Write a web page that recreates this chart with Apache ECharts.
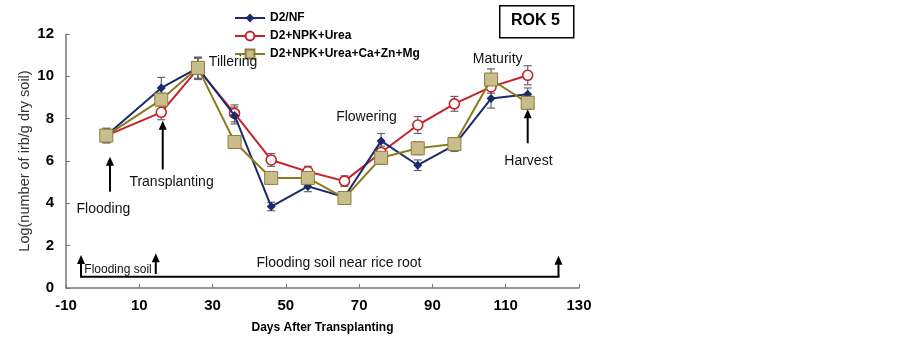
<!DOCTYPE html>
<html><head><meta charset="utf-8">
<script src="https://cdn.jsdelivr.net/npm/echarts@6/dist/echarts.min.js"></script>
<style>html,body{margin:0;padding:0;background:#fff}#c{width:903px;height:339px}</style>
</head><body><div id="c"></div>
<script>
const days = [1, 16, 26, 36, 46, 56, 66, 76, 86, 96, 106, 116];
const nf   = [7.2, 9.45, 10.4, 8.15, 3.85, 4.8, 4.3, 6.95, 5.8, 6.75, 8.95, 9.15];
const urea = [7.2, 8.3, 10.35, 8.25, 6.05, 5.5, 5.05, 6.4, 7.7, 8.7, 9.5, 10.05];
const ca   = [7.2, 8.9, 10.4, 6.9, 5.2, 5.2, 4.25, 6.15, 6.6, 6.8, 9.85, 8.75];
const nfErr   = [0.3, 0.5, 0.5, 0.4, 0.2, 0.25, 0.2, 0.35, 0.25, 0.3, 0.45, 0.3];
const ureaErr = [0.3, 0.35, 0.5, 0.4, 0.3, 0.25, 0.25, 0.3, 0.4, 0.35, 0.3, 0.45];
const caErr   = [0.35, 0.3, 0.5, 0.3, 0.2, 0.25, 0.2, 0.3, 0.3, 0.3, 0.5, 0.3];
const seriesNames = ['D2/NF', 'D2+NPK+Urea', 'D2+NPK+Urea+Ca+Zn+Mg'];
const xTicks = [-10, 10, 30, 50, 70, 90, 110, 130];
const yTicks = [0, 2, 4, 6, 8, 10, 12];
// annotation texts [x, y, text, size]
const notes = [
  [35.6, 10.66, 'Tillering', 14], [72.0, 8.07, 'Flowering', 14], [107.8, 10.8, 'Maturity', 14],
  [116.2, 5.99, 'Harvest', 14], [18.8, 5.0, 'Transplanting', 14], [0.2, 3.73, 'Flooding', 14],
  [4.2, 0.86, 'Flooding soil', 12], [64.5, 1.16, 'Flooding soil near rice root', 14]
];
// vertical arrows [x, yFrom, yTo]
const arrows = [[2.0, 4.55, 6.2], [16.4, 5.6, 7.9], [116.0, 6.84, 8.44], [-5.9, 0.53, 1.56], [14.5, 0.66, 1.64], [124.4, 0.53, 1.52]];
// horizontal bracket line [xFrom, xTo, y]
const bracket = [[-5.9, 124.4, 0.53]];

const FONT = 'Liberation Sans, Arial, sans-serif';
const colors = ['#1B2A6B', '#C8202A', '#8C7B1E'];

function errData(vals, errs) { return days.map((d, i) => [d, vals[i], errs[i]]); }
function errSeries(vals, errs) {
  return {
    type: 'custom', z: 1, silent: true, legendHoverLink: false,
    data: errData(vals, errs),
    renderItem: function (params, api) {
      const x = api.value(0), y = api.value(1), e = api.value(2);
      const top = api.coord([x, y + e]), bot = api.coord([x, y - e]);
      const w = 4;
      const st = { stroke: '#666', lineWidth: 1.2 };
      return { type: 'group', children: [
        { type: 'line', shape: { x1: top[0], y1: top[1], x2: bot[0], y2: bot[1] }, style: st },
        { type: 'line', shape: { x1: top[0] - w, y1: top[1], x2: top[0] + w, y2: top[1] }, style: st },
        { type: 'line', shape: { x1: bot[0] - w, y1: bot[1], x2: bot[0] + w, y2: bot[1] }, style: st }
      ]};
    }
  };
}

const chart = echarts.init(document.getElementById('c'));
chart.setOption({
  animation: false,
  textStyle: { fontFamily: FONT },
  grid: { left: 66, right: 324, top: 34, bottom: 50 },
  legend: {
    orient: 'vertical', left: 229, top: 7, itemGap: 6, itemWidth: 30, itemHeight: 11,
    textStyle: { fontFamily: FONT, fontWeight: 'bold', fontSize: 12, color: '#000' },
    data: seriesNames
  },
  xAxis: {
    type: 'value', min: xTicks[0], max: xTicks[xTicks.length - 1], interval: 20,
    name: 'Days After Transplanting', nameLocation: 'middle', nameGap: 34,
    nameTextStyle: { fontFamily: FONT, fontWeight: 'bold', fontSize: 12, color: '#000' },
    axisLine: { onZero: false, lineStyle: { color: '#777', width: 1.5 } },
    axisTick: { inside: true, length: 4, lineStyle: { color: '#777' } },
    axisLabel: { fontFamily: FONT, fontWeight: 'bold', fontSize: 15, color: '#000', margin: 10 },
    splitLine: { show: false }
  },
  yAxis: {
    type: 'value', min: yTicks[0], max: yTicks[yTicks.length - 1], interval: 2,
    name: 'Log(number of irb/g dry soil)', nameLocation: 'middle', nameGap: 34, nameMoveOverlap: false,
    nameTextStyle: { fontFamily: FONT, fontSize: 14.5, color: '#333' },
    axisLine: { show: true, onZero: false, lineStyle: { color: '#777', width: 1.5 } },
    axisTick: { show: true, inside: true, length: 4, lineStyle: { color: '#777' } },
    axisLabel: { fontFamily: FONT, fontWeight: 'bold', fontSize: 15, color: '#000', margin: 12 },
    splitLine: { show: false }
  },
  graphic: [
    { type: 'rect', left: 499, top: 5, shape: { width: 74, height: 32 }, style: { fill: '#fff', stroke: '#000', lineWidth: 1.5 } },
    { type: 'text', left: 511, top: 13, style: { text: 'ROK 5', fontFamily: FONT, fontWeight: 'bold', fontSize: 16, fill: '#000' } }
  ],
  series: [
    { name: seriesNames[0], type: 'line', z: 3, data: days.map((d, i) => [d, nf[i]]),
      symbol: 'diamond', symbolSize: 9, lineStyle: { color: colors[0], width: 2 },
      itemStyle: { color: colors[0] } },
    { name: seriesNames[1], type: 'line', z: 2, data: days.map((d, i) => [d, urea[i]]),
      symbol: 'circle', symbolSize: 10, lineStyle: { color: colors[1], width: 2 },
      itemStyle: { color: '#fff', borderColor: colors[1], borderWidth: 1.6 } },
    { name: seriesNames[2], type: 'line', z: 4, data: days.map((d, i) => [d, ca[i]]),
      symbol: 'rect', symbolSize: 13, lineStyle: { color: colors[2], width: 2 },
      itemStyle: { color: '#C9BD8C', borderColor: '#8C7B3A', borderWidth: 1 } },
    errSeries(nf, nfErr), errSeries(urea, ureaErr), errSeries(ca, caErr),
    { type: 'custom', z: 5, silent: true, data: arrows,
      renderItem: function (params, api) {
        const a = api.coord([api.value(0), api.value(1)]), b = api.coord([api.value(0), api.value(2)]);
        return { type: 'group', children: [
          { type: 'line', shape: { x1: a[0], y1: a[1], x2: b[0], y2: b[1] + 6 }, style: { stroke: '#000', lineWidth: 2 } },
          { type: 'polygon', shape: { points: [[b[0], b[1]], [b[0] - 4, b[1] + 9], [b[0] + 4, b[1] + 9]] }, style: { fill: '#000' } }
        ]};
      } },
    { type: 'custom', z: 5, silent: true, data: bracket,
      renderItem: function (params, api) {
        const a = api.coord([api.value(0), api.value(2)]), b = api.coord([api.value(1), api.value(2)]);
        return { type: 'line', shape: { x1: a[0] - 1, y1: a[1], x2: b[0] + 1, y2: b[1] }, style: { stroke: '#000', lineWidth: 2 } };
      } },
    { type: 'custom', z: 6, silent: true, data: notes,
      renderItem: function (params, api) {
        const p = api.coord([api.value(0), api.value(1)]);
        const n = notes[params.dataIndex];
        return { type: 'text', x: p[0], y: p[1], style: { text: n[2], fontFamily: FONT, fontSize: n[3], fill: '#111', align: 'center', verticalAlign: 'middle' } };
      } }
  ]
});
</script></body></html>
